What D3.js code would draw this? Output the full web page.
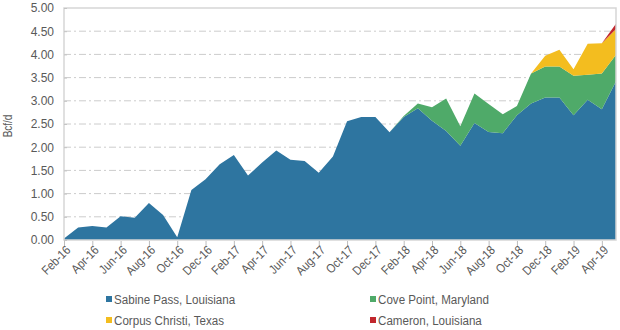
<!DOCTYPE html>
<html>
<head>
<meta charset="utf-8">
<script src="https://cdn.jsdelivr.net/npm/d3@7"></script>
<style>
  html, body { margin: 0; padding: 0; background: #fff; }
  svg text { font-family: "Liberation Sans", Arial, sans-serif; fill: #595959; }
</style>
</head>
<body>
<svg id="chart" width="620" height="330"></svg>
<script>
// Monthly LNG export volumes by terminal, Bcf/d
const months = [
  "Feb-16","Mar-16","Apr-16","May-16","Jun-16","Jul-16","Aug-16","Sep-16","Oct-16","Nov-16","Dec-16",
  "Jan-17","Feb-17","Mar-17","Apr-17","May-17","Jun-17","Jul-17","Aug-17","Sep-17","Oct-17","Nov-17","Dec-17",
  "Jan-18","Feb-18","Mar-18","Apr-18","May-18","Jun-18","Jul-18","Aug-18","Sep-18","Oct-18","Nov-18","Dec-18",
  "Jan-19","Feb-19","Mar-19","Apr-19","May-19"
];
const sabinePass = [
  0.03,0.27,0.30,0.27,0.51,0.48,0.80,0.54,0.06,1.08,1.31,
  1.63,1.83,1.39,1.67,1.93,1.73,1.70,1.45,1.80,2.56,2.65,2.65,
  2.32,2.65,2.84,2.57,2.35,2.03,2.52,2.33,2.30,2.69,2.94,3.07,
  3.07,2.69,3.02,2.82,3.42
];
const covePoint = [
  0,0,0,0,0,0,0,0,0,0,0,
  0,0,0,0,0,0,0,0,0,0,0,0,
  0,0.02,0.10,0.29,0.70,0.42,0.64,0.60,0.41,0.20,0.65,0.67,
  0.67,0.85,0.54,0.77,0.57
];
const corpusChristi = [
  0,0,0,0,0,0,0,0,0,0,0,
  0,0,0,0,0,0,0,0,0,0,0,0,
  0,0,0,0,0,0,0,0,0,0,0,0.23,
  0.36,0.14,0.67,0.65,0.56
];
const cameron = [
  0,0,0,0,0,0,0,0,0,0,0,
  0,0,0,0,0,0,0,0,0,0,0,0,
  0,0,0,0,0,0,0,0,0,0,0,0,
  0,0,0,0,0.11
];
const seriesNames = ["Sabine Pass, Louisiana", "Cove Point, Maryland", "Corpus Christi, Texas", "Cameron, Louisiana"];
const seriesColors = ["#2e75a0", "#4faa69", "#f3bd1f", "#c1272d"];
const yTicks = [0, 0.5, 1, 1.5, 2, 2.5, 3, 3.5, 4, 4.5, 5];
const xTickLabels = months.filter((m, i) => i % 2 === 0 && i < 39);

const svg = d3.select("#chart");
const plot = { left: 64, right: 616, top: 8, bottom: 240 };

const rows = months.map((m, i) => ({
  month: m,
  s0: sabinePass[i], s1: covePoint[i], s2: corpusChristi[i], s3: cameron[i]
}));
const stack = d3.stack().keys(["s0", "s1", "s2", "s3"]);
const layers = stack(rows);

const x = d3.scalePoint().domain(months).range([plot.left, plot.right]);
const y = d3.scaleLinear().domain([0, 5]).range([plot.bottom, plot.top]);

// Dash-dot gridlines
svg.append("g")
  .selectAll("line")
  .data(yTicks.filter(t => t > 0 && t < 5))
  .join("line")
  .attr("x1", plot.left).attr("x2", plot.right)
  .attr("y1", d => y(d)).attr("y2", d => y(d))
  .attr("stroke", "#cccccc")
  .attr("stroke-width", 1)
  .attr("stroke-dasharray", "7,3,2,3");

// Stacked areas
const area = d3.area()
  .x((d, i) => x(months[i]))
  .y0(d => y(d[0]))
  .y1(d => y(d[1]));

svg.append("g")
  .selectAll("path")
  .data(layers)
  .join("path")
  .attr("fill", (d, i) => seriesColors[i])
  .attr("d", area);

// Plot frame
svg.append("rect")
  .attr("x", plot.left).attr("y", plot.top)
  .attr("width", plot.right - plot.left).attr("height", plot.bottom - plot.top)
  .attr("fill", "none")
  .attr("stroke", "#d6d6d6")
  .attr("stroke-width", 1.5);

// Y axis: labels plus short inward ticks on the frame
const yAxis = d3.axisRight(y)
  .tickValues(yTicks)
  .tickFormat(d3.format(".2f"))
  .tickSize(3);
const gy = svg.append("g").attr("transform", `translate(${plot.left},0)`).call(yAxis);
gy.select(".domain").remove();
gy.selectAll(".tick line").attr("stroke", "#c4c4c4");
gy.selectAll("text")
  .attr("font-size", 12)
  .attr("text-anchor", "end")
  .attr("x", -10)
  .style("fill", "#595959");

// X axis
const xAxis = d3.axisBottom(x)
  .tickValues(xTickLabels)
  .tickSize(5)
  .tickSizeOuter(0);
const gx = svg.append("g").attr("transform", `translate(0,${plot.bottom + 1})`).call(xAxis);
gx.select(".domain").remove();
gx.selectAll(".tick line").attr("stroke", "#bdbdbd");
gx.selectAll("text")
  .attr("font-size", 12.5)
  .style("fill", "#595959")
  .attr("text-anchor", "end")
  .attr("dx", "-0.2em")
  .attr("dy", "0.3em")
  .attr("transform", "rotate(-45) scale(0.88,1)");

// Y axis title
svg.append("text")
  .attr("transform", "translate(12,126) rotate(-90) scale(0.8,1)")
  .attr("text-anchor", "middle")
  .attr("font-size", 12.5)
  .text("Bcf/d");

// Legend
const legendPos = [[106, 296], [370, 296], [106, 317], [370, 317]];
const legend = svg.append("g")
  .selectAll("g")
  .data(seriesNames)
  .join("g")
  .attr("transform", (d, i) => `translate(${legendPos[i][0]},${legendPos[i][1]})`);
legend.append("rect")
  .attr("width", 6).attr("height", 6)
  .attr("fill", (d, i) => seriesColors[i]);
legend.append("text")
  .attr("transform", "translate(8,7.5) scale(0.86,1)")
  .attr("font-size", 13.5)
  .text(d => d);
</script>
</body>
</html>
